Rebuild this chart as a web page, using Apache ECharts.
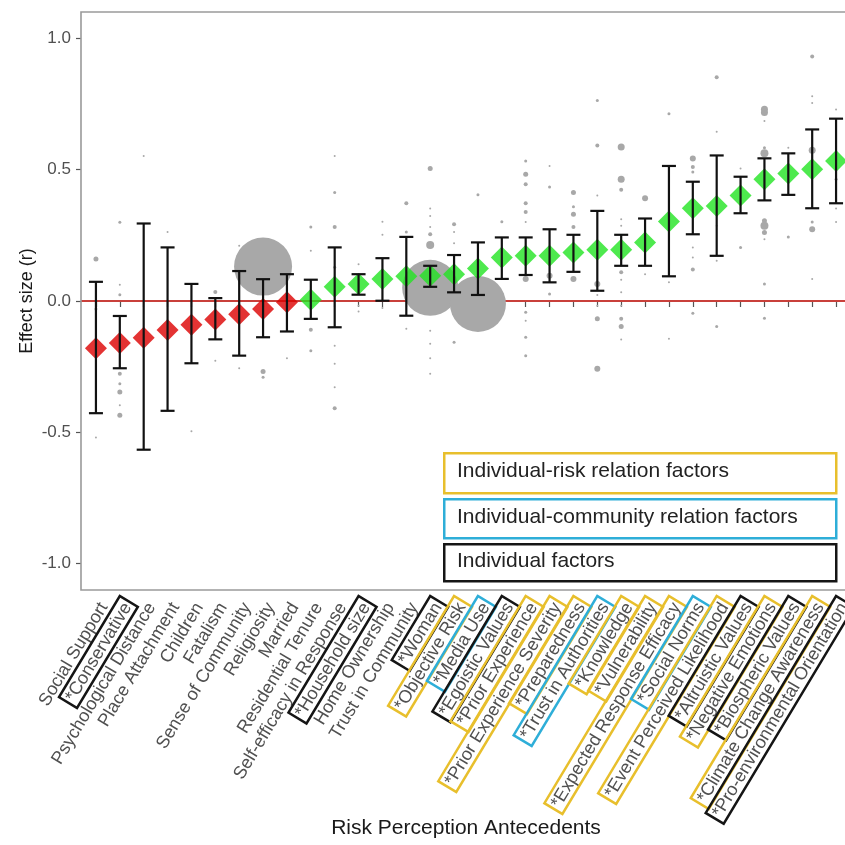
<!DOCTYPE html>
<html><head><meta charset="utf-8">
<script src="https://cdn.jsdelivr.net/npm/echarts@6/dist/echarts.min.js"></script>
<style>html,body{margin:0;padding:0;background:#fff}#c{width:845px;height:845px}</style>
</head><body><div id="c"></div>
<script>
const categories = ['Social Support','*Conservative','Psychological Distance','Place Attachment','Children','Fatalism','Sense of Community','Religiosity','Married','Residential Tenure','Self-efficacy in Response','*Household size','Home Ownership','Trust in Community','*Woman','*Objective Risk','*Media Use','*Egoistic Values','*Prior Experience','*Prior Experience Severity','*Preparedness','*Trust in Authorities','*Knowledge','*Vulnerability','*Expected Response Efficacy','*Social Norms','*Event Perceived Likelihood','*Altruistic Values','*Negative Emotions','*Biospheric Values','*Climate Change Awareness','*Pro-environmental Orientation'];
const labelGroup = ['n','ind','n','n','n','n','n','n','n','n','n','ind','n','n','ind','risk','comm','ind','risk','risk','risk','comm','risk','risk','risk','comm','risk','ind','risk','ind','risk','ind'];
const meanR = [-0.18,-0.16,-0.14,-0.11,-0.09,-0.07,-0.05,-0.03,-0.005,0.005,0.054,0.065,0.084,0.094,0.096,0.102,0.124,0.166,0.172,0.172,0.185,0.195,0.195,0.223,0.303,0.353,0.362,0.402,0.463,0.485,0.501,0.533];
const lowerCI = [-0.427,-0.256,-0.566,-0.418,-0.237,-0.146,-0.208,-0.138,-0.116,-0.068,-0.1,0.024,0.001,-0.056,0.054,0.033,0.023,0.084,0.099,0.071,0.111,0.039,0.134,0.134,0.094,0.254,0.172,0.334,0.383,0.404,0.353,0.372];
const upperCI = [0.073,-0.057,0.295,0.204,0.065,0.011,0.114,0.083,0.102,0.081,0.204,0.102,0.163,0.244,0.134,0.175,0.223,0.242,0.242,0.273,0.252,0.343,0.252,0.314,0.514,0.454,0.554,0.473,0.543,0.562,0.653,0.694];
// individual study effects: [category index, r, marker size]
const studyPoints = [
 [0,0.16,5],[0,-0.03,3],[0,-0.52,2],
 [1,0.30,3],[1,0.062,2],[1,0.024,3],[1,-0.277,4],[1,-0.315,3],[1,-0.346,5],[1,-0.397,2],[1,-0.435,5],
 [2,0.552,2],
 [3,0.263,2],
 [4,-0.496,2],
 [5,0.034,4],[5,-0.227,2],
 [6,0.21,2],[6,-0.256,2],
 [7,0.131,58],[7,-0.268,5],[7,-0.29,3],
 [8,-0.218,2],
 [9,0.282,3],[9,0.191,2],[9,-0.109,4],[9,-0.189,3],
 [10,0.552,2],[10,0.413,3],[10,0.282,4],[10,0.128,3],[10,-0.17,2],[10,-0.239,2],[10,-0.328,2],[10,-0.408,4],
 [11,0.14,2],[11,-0.018,2],[11,-0.04,2],
 [12,0.302,2],[12,0.252,2],[12,-0.027,2],
 [13,0.372,4],[13,0.263,3],[13,-0.106,2],
 [14,0.05,56],[14,0.504,5],[14,0.352,2],[14,0.324,2],[14,0.282,2],[14,0.254,4],[14,0.213,8],[14,-0.113,2],[14,-0.163,2],[14,-0.218,2],[14,-0.277,2],
 [15,0.292,4],[15,0.263,2],[15,0.22,2],[15,-0.157,3],
 [16,-0.011,56],[16,0.404,3],
 [17,0.302,3],
 [18,0.533,3],[18,0.482,5],[18,0.444,4],[18,0.372,4],[18,0.339,4],[18,0.301,2],[18,0.084,6],[18,-0.043,3],[18,-0.075,2],[18,-0.138,3],[18,-0.208,3],
 [19,0.514,2],[19,0.434,3],[19,0.096,6],[19,0.027,3],
 [20,0.413,5],[20,0.359,3],[20,0.33,5],[20,0.282,4],[20,0.084,6],
 [21,0.763,3],[21,0.592,4],[21,0.402,2],[21,0.065,6],[21,0.023,2],[21,-0.018,2],[21,-0.068,5],[21,-0.258,6],
 [22,0.586,7],[22,0.463,7],[22,0.423,4],[22,0.311,2],[22,0.286,2],[22,0.109,4],[22,0.081,2],[22,0.033,2],[22,-0.018,2],[22,-0.068,4],[22,-0.097,5],[22,-0.147,2],
 [23,0.391,6],[23,0.102,2],
 [24,0.713,3],[24,0.153,2],[24,0.071,2],[24,-0.144,2],
 [25,0.542,6],[25,0.51,4],[25,0.491,3],[25,0.204,2],[25,0.166,2],[25,0.12,4],[25,-0.047,3],
 [26,0.852,4],[26,0.644,2],[26,0.286,2],[26,0.153,2],[26,-0.097,3],
 [27,0.504,2],[27,0.204,3],
 [28,0.73,7],[28,0.717,7],[28,0.685,2],[28,0.583,3],[28,0.562,8],[28,0.305,5],[28,0.286,8],[28,0.261,5],[28,0.235,2],[28,0.065,3],[28,-0.066,3],
 [29,0.583,2],[29,0.244,3],
 [30,0.931,4],[30,0.779,2],[30,0.754,2],[30,0.574,7],[30,0.301,3],[30,0.273,6],[30,0.084,2],
 [31,0.729,2],[31,0.463,3],[31,0.352,2],[31,0.301,2]
];
const yTicks = [-1, -0.5, 0, 0.5, 1];
const referenceLine = [0];
const legendLabels = ['Individual-risk relation factors','Individual-community relation factors','Individual factors'];
const legendGroups = ['risk','comm','ind'];
const xTitle = 'Risk Perception Antecedents';
const yTitle = 'Effect size (r)';

const groupColor = {risk:'#e8bf2c', comm:'#2eaed8', ind:'#151515'};
const FONT = 'Liberation Sans, Arial, sans-serif';
const rich = {n:{fontSize:18, fontFamily:FONT, color:'#505050', padding:[2,3,1,3]}};
Object.keys(groupColor).forEach(k => {
  rich[k] = {fontSize:18, fontFamily:FONT, color:'#505050', padding:[2,3,1,3], borderColor:groupColor[k], borderWidth:2.5};
});

const chart = echarts.init(document.getElementById('c'), null, {renderer:'canvas'});

const legendGraphics = [];
const legTops = [452, 498, 543], legHeights = [40, 39, 37];
legendLabels.forEach((t, i) => {
  legendGraphics.push({type:'rect', left:443, top:legTops[i], z:100,
    shape:{width:392, height:legHeights[i]},
    style:{fill:'#fff', stroke:groupColor[legendGroups[i]], lineWidth:2.5}});
  legendGraphics.push({type:'text', left:457, top:legTops[i] + legHeights[i]/2 - 11, z:101,
    style:{text:t, fontSize:21, fontFamily:FONT, fill:'#222'}});
});

chart.setOption({
  animation:false,
  backgroundColor:'#fff',
  grid:{left:84, top:12, width:764, height:578, outerBoundsMode:'none', containLabel:false},
  graphic:[
    {type:'polyline', z:50, shape:{points:[[850,12],[81,12],[81,590],[850,590]]}, style:{fill:null, stroke:'#9a9a9a', lineWidth:1.6}},
    ...legendGraphics
  ],
  xAxis:{type:'category', data:categories, boundaryGap:true,
    name:xTitle, nameLocation:'middle', nameGap:228, nameMoveOverlap:false,
    nameTextStyle:{fontSize:21, fontFamily:FONT, color:'#1a1a1a'},
    axisLine:{show:false},
    axisTick:{show:true, alignWithLabel:true, length:6, lineStyle:{color:'#555', width:1.2}},
    axisLabel:{interval:0, rotate:59, margin:6, verticalAlign:'top', hideOverlap:false,
      formatter:(v, i) => '{' + labelGroup[i] + '|' + v + '}', rich:rich},
    splitLine:{show:false}},
  yAxis:{type:'value', min:-1.1, max:1.1, offset:3,
    name:yTitle, nameLocation:'middle', nameGap:45, nameRotate:90, nameMoveOverlap:false,
    nameTextStyle:{fontSize:18, fontFamily:FONT, color:'#1a1a1a'},
    axisLine:{show:false},
    axisTick:{show:true, length:5, customValues:yTicks, lineStyle:{color:'#555', width:1.2}},
    axisLabel:{customValues:yTicks, margin:10, fontSize:17, fontFamily:FONT, color:'#505050',
      formatter:v => v.toFixed(1)},
    splitLine:{show:false}},
  series:[
    {type:'custom', z:1, data:referenceLine.map(v => [0, v]), encode:{x:0, y:1}, silent:true,
      renderItem:(params, api) => {
        const p = api.coord([0, api.value(1)]);
        const cs = params.coordSys;
        return {type:'line', shape:{x1:cs.x - 3, y1:p[1], x2:cs.x + cs.width, y2:p[1]},
          style:{stroke:'#c9403b', lineWidth:2}};
      }},
    {type:'scatter', z:2, data:studyPoints.map(p => [p[0], p[1], p[2]]),
      symbol:'circle', symbolSize:v => v[2], itemStyle:{color:'#a8a8a8', opacity:1}},
    {type:'scatter', z:3, symbol:'diamond', symbolSize:22,
      data:meanR.map((v, i) => ({value:[i, v], itemStyle:{color: v < 0 ? '#dc0000' : '#22e422'}}))},
    {type:'custom', z:4, encode:{x:0, y:[1,2]},
      data:categories.map((c, i) => [i, lowerCI[i], upperCI[i]]),
      renderItem:(params, api) => {
        const x = api.value(0);
        const lo = api.coord([x, api.value(1)]);
        const hi = api.coord([x, api.value(2)]);
        const hw = 7;
        const st = {stroke:'#111', lineWidth:2.2};
        return {type:'group', children:[
          {type:'line', shape:{x1:lo[0], y1:lo[1], x2:hi[0], y2:hi[1]}, style:st},
          {type:'line', shape:{x1:lo[0]-hw, y1:lo[1], x2:lo[0]+hw, y2:lo[1]}, style:st},
          {type:'line', shape:{x1:hi[0]-hw, y1:hi[1], x2:hi[0]+hw, y2:hi[1]}, style:st}
        ]};
      }}
  ]
});
</script></body></html>
